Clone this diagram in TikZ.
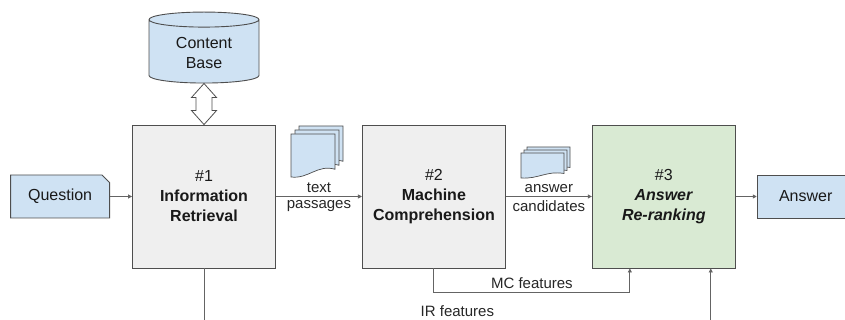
\documentclass[tikz,border=0pt]{standalone}
\usepackage{fontspec}
\setmainfont{Liberation Sans}
\usetikzlibrary{calc,positioning,shapes.geometric,shapes.misc,arrows.meta}

\definecolor{boxblue}{RGB}{207,226,243}
\definecolor{boxgreen}{RGB}{217,234,211}
\definecolor{boxgray}{RGB}{239,239,239}
\definecolor{edge}{RGB}{78,78,78}
\definecolor{wire}{RGB}{100,100,100}

\tikzset{
  stage/.style={draw=edge, fill=boxgray, line width=0.9pt, minimum width=143pt, minimum height=143pt,
    align=center, text=black!90, font=\fontsize{16}{20}\selectfont},
  io/.style={draw=edge, fill=boxblue, line width=0.9pt, minimum width=99pt, minimum height=43pt,
    text=black!90, font=\fontsize{16}{20}\selectfont},
  flow/.style={draw=wire, line width=0.9pt, -{Triangle[length=4pt,width=4pt]}},
  lbl/.style={text=black!85, font=\fontsize{15}{18}\selectfont},
  sheet/.style={draw=edge, fill=boxblue, line width=0.7pt},
}

% three stacked pages: top-left x, y of the front page, width, height, offset
\newcommand{\pagestack}[5]{%
  \foreach \k in {2,1,0} {
    \begin{scope}[shift={(\k*#5,-\k*#5)}]
      \draw[sheet] (#1,#2) -- ({#1+#3},#2) -- ({#1+#3},{#2+0.82*#4})
        .. controls ({#1+0.6*#3},{#2+0.7*#4}) and ({#1+0.4*#3},{#2+1.05*#4}) .. (#1,{#2+#4}) -- cycle;
    \end{scope}
  }
}

\begin{document}
\begin{tikzpicture}[x=1pt,y=-1pt]
    \useasboundingbox (0,0) rectangle (845,320);
    \clip (0,0) rectangle (845,320);

    \node[stage] (ir) at (204,196.5) {\#1\\\textbf{Information}\\\textbf{Retrieval}};
    \node[stage, right=86pt of ir] (mc) {\#2\\\textbf{Machine}\\\textbf{Comprehension}};
    \node[stage, fill=boxgreen, right=86pt of mc] (rr) {\#3\\\textbf{\textit{Answer}}\\\textbf{\textit{Re-ranking}}};
    \node[io, chamfered rectangle, chamfered rectangle corners=north east, chamfered rectangle xsep=4pt,
      left=22pt of ir] (question) {Question};
    \node[io, minimum width=97pt, right=21pt of rr] (answer) {Answer};
    \node[cylinder, shape border rotate=90, aspect=0.24, draw=edge, fill=boxblue, line width=0.9pt,
      minimum width=110pt, minimum height=71pt, align=center, text=black!90,
      font=\fontsize{16}{20}\selectfont, anchor=south] (db) at (204,83.5) {Content\\Base};

    % hollow double arrow between content base and retrieval
    \draw[draw=edge, fill=white, line width=0.8pt] (db.south) -- ++(12.5,14) -- ++(-4.5,0)
      -- ($(ir.north)+(8,-14)$) -- ++(4.5,0) -- (ir.north) -- ++(-12.5,-14) -- ++(4.5,0)
      -- ($(db.south)+(-8,14)$) -- ++(-4.5,0) -- cycle;

    \pagestack{291}{134}{44}{43}{4}
    \pagestack{521}{153}{43}{25}{3}

    \draw[flow] (question) -- (ir);
    \draw[flow] (ir) -- node[lbl,above]{text} node[lbl,below]{passages} (mc);
    \draw[flow] (mc) -- node[lbl,above]{answer} node[lbl,below]{candidates} (rr);
    \draw[flow] (rr) -- (answer);

    \coordinate (mcin) at ([xshift=38pt]rr.south west);
    \coordinate (irin) at ([xshift=-25pt]rr.south east);
    \draw[flow] (mc.south) -- ++(0,24) -| node[lbl,above,pos=0.25]{MC features} (mcin);
    \draw[flow] (ir.south) -- ++(0,54) -| node[lbl,above,pos=0.25,yshift=2.5pt]{IR features} (irin);
\end{tikzpicture}
\end{document}
